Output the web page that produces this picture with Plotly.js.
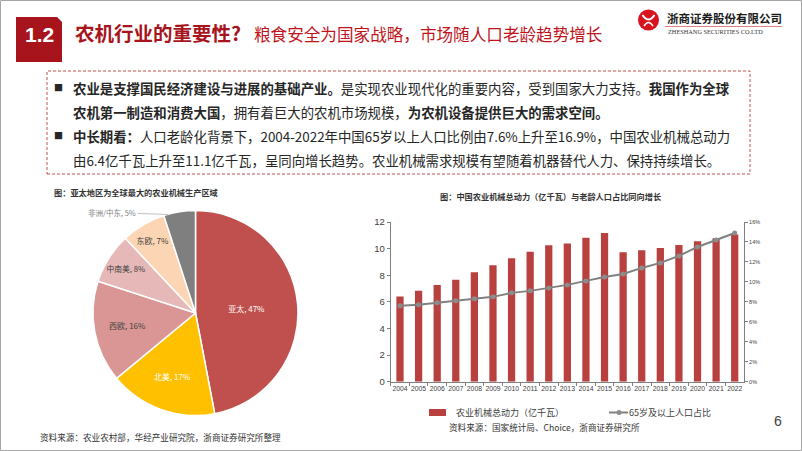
<!DOCTYPE html>
<html>
<head>
<meta charset="utf-8">
<script src="https://cdn.plot.ly/plotly-3.0.1.min.js"></script>
<style>
html,body{margin:0;padding:0;background:#fff;overflow:hidden;}
#chart{width:802px;height:451px;}
</style>
</head>
<body>
<div id="chart"></div>
<script>
// ---- data ----
const regions = ['亚太','北美','西欧','中南美','东欧','非洲/中东'];
const shares = [47,17,16,8,7,5];
const regionColors = ['#c0504d','#ffc000','#d99694','#e6b9b8','#fcd5b4','#7f7f7f'];
const years = ['2004','2005','2006','2007','2008','2009','2010','2011','2012','2013','2014','2015','2016','2017','2018','2019','2020','2021','2022'];
const machinePower = [6.4,6.84,7.26,7.66,8.22,8.75,9.28,9.77,10.26,10.39,10.81,11.17,9.72,9.88,10.04,10.28,10.56,10.78,11.06];
const elderlyShare = [7.6,7.7,7.9,8.1,8.3,8.5,8.9,9.1,9.4,9.7,10.1,10.5,10.8,11.4,11.9,12.6,13.5,14.2,14.9];
const leftTicks = [0,2,4,6,8,10,12];
const rightTicks = [0,2,4,6,8,10,12,14,16];
const rightTickText = ['0%','2%','4%','6%','8%','10%','12%','14%','16%'];

// ---- helpers: pixel -> paper ----
const W = 802, H = 451;
const X = px => px / W;
const Y = py => 1 - py / H;
const CJK = '"Noto Sans CJK SC", "Noto Sans", sans-serif';
const ARIAL = '"Liberation Sans", Arial, sans-serif';

const pieTrace = {
  type: 'pie',
  labels: regions,
  values: shares,
  sort: false,
  direction: 'clockwise',
  rotation: 0,
  domain: {x: [X(93), X(298)], y: [Y(415.5), Y(210.5)]},
  marker: {colors: regionColors, line: {color: '#ffffff', width: 1.5}},
  texttemplate: '%{label}, %{value}%',
  textposition: ['inside','inside','inside','inside','inside','none'],
  insidetextorientation: 'horizontal',
  insidetextfont: {family: CJK, size: 8, color: ['#ffffff','#ffffff','#404040','#404040','#404040','#404040']},
  showlegend: false,
  hoverinfo: 'none'
};

const barTrace = {
  type: 'bar',
  x: years,
  y: machinePower,
  name: '农业机械总动力（亿千瓦）',
  marker: {color: '#b8413f'},
  xaxis: 'x', yaxis: 'y',
  hoverinfo: 'none'
};

const lineTrace = {
  type: 'scatter',
  mode: 'lines+markers',
  x: years,
  y: elderlyShare,
  name: '65岁及以上人口占比',
  line: {color: '#808080', width: 2},
  marker: {color: '#8c8c8c', size: 5},
  xaxis: 'x', yaxis: 'y2',
  hoverinfo: 'none'
};

const ann = [];
function txt(text, x, y, size, opts) {
  opts = opts || {};
  ann.push(Object.assign({
    text: text, x: X(x), y: Y(y), xref: 'paper', yref: 'paper',
    xanchor: opts.xanchor || 'left', yanchor: 'middle', showarrow: false,
    font: {family: opts.family || CJK, size: size, color: opts.color || '#262626'}
  }, opts.extra || {}));
}

// header
txt('<b>1.2</b>', 39, 34, 21, {xanchor: 'center', family: ARIAL, color: '#ffffff'});
txt('<b>农机行业的重要性?</b>', 73, 33, 19.5, {color: '#a8141c'});
txt('粮食安全为国家战略，市场随人口老龄趋势增长', 252, 34, 16.6, {color: '#c0141c'});
// logo text
txt('<b>浙商证券股份有限公司</b>', 665, 18, 11.5, {color: '#1a1a1a'});
txt('ZHESHANG SECURITIES CO.LTD', 666, 32, 6.3, {family: '"Liberation Serif", serif', color: '#333333'});

// text box
txt('■', 58, 88, 9, {xanchor: 'center'});
txt('■', 58, 136, 9, {xanchor: 'center'});
txt('<b>农业是支撑国民经济建设与进展的基础产业。</b>是实现农业现代化的重要内容，受到国家大力支持。<b>我国作为全球</b>', 71, 88, 13.4);
txt('<b>农机第一制造和消费大国</b>，拥有着巨大的农机市场规模，<b>为农机设备提供巨大的需求空间。</b>', 71, 112, 13.4);
txt('<b>中长期看：</b>人口老龄化背景下，2004-2022年中国65岁以上人口比例由7.6%上升至16.9%，中国农业机械总动力', 71, 136, 13.4);
txt('由6.4亿千瓦上升至11.1亿千瓦，呈同向增长趋势。农业机械需求规模有望随着机器替代人力、保持持续增长。', 71, 160, 13.4);

// chart titles & sources
txt('<b>图：亚太地区为全球最大的农业机械生产区域</b>', 52, 192, 8.2, {color: '#333333'});
txt('<b>图：中国农业机械总动力（亿千瓦）与老龄人口占比同向增长</b>', 550, 196, 8.2, {xanchor: 'center', color: '#333333'});
txt('资料来源：农业农村部，华经产业研究院，浙商证券研究所整理', 38, 437, 8.6, {color: '#333333'});
txt('资料来源：国家统计局、Choice，浙商证券研究所', 447, 427, 8.6, {color: '#333333'});
txt('6', 778, 421, 14, {xanchor: 'center', family: ARIAL, color: '#404040'});

// outside pie label with leader line (last region)
ann.push({
  text: regions[5] + ', ' + shares[5] + '%',
  x: X(168), y: Y(214.5), xref: 'paper', yref: 'paper',
  ax: -56, ay: -2, showarrow: true, arrowhead: 0, arrowwidth: 0.7, arrowcolor: '#a6a6a6',
  font: {family: CJK, size: 7.5, color: '#808080'}
});

const shapes = [
  // slide frame
  {type: 'rect', xref: 'paper', yref: 'paper', x0: X(0.5), x1: X(801.5), y0: Y(450.5), y1: Y(0.5), line: {color: '#a6a6a6', width: 1}},
  // section number box with cut corner
  {type: 'path', xref: 'paper', yref: 'paper', fillcolor: '#a8141c', line: {width: 0},
   path: `M${X(16)},${Y(17)} L${X(57)},${Y(17)} L${X(62)},${Y(22)} L${X(62)},${Y(62)} L${X(16)},${Y(62)} Z`},
  // logo
  {type: 'circle', xref: 'paper', yref: 'paper', x0: X(638), x1: X(659), y0: Y(30.5), y1: Y(9.5), fillcolor: '#d7141e', line: {width: 0}},
  {type: 'path', xref: 'paper', yref: 'paper', fillcolor: 'rgba(0,0,0,0)', line: {color: '#ffffff', width: 2},
   path: `M${X(642.5)},${Y(15)} Q${X(648.5)},${Y(24)} ${X(654.5)},${Y(15)}`},
  {type: 'path', xref: 'paper', yref: 'paper', fillcolor: 'rgba(0,0,0,0)', line: {color: '#ffffff', width: 1.6},
   path: `M${X(644)},${Y(26)} Q${X(648.5)},${Y(19)} ${X(653)},${Y(26)}`},
  {type: 'line', xref: 'paper', yref: 'paper', x0: X(665), x1: X(782), y0: Y(26.5), y1: Y(26.5), line: {color: '#e08080', width: 1}},
  // dashed text box
  {type: 'rect', xref: 'paper', yref: 'paper', x0: X(47), x1: X(750), y0: Y(174), y1: Y(71), line: {color: '#c0504d', width: 1, dash: '3px,2px'}}
];

const layout = {
  width: W, height: H,
  margin: {l: 0, r: 0, t: 0, b: 0, pad: 0, autoexpand: false},
  paper_bgcolor: '#ffffff', plot_bgcolor: 'rgba(0,0,0,0)',
  bargap: 0.61,
  xaxis: {
    domain: [X(390.7), X(744)], anchor: 'y', type: 'category', range: [-0.5, 18.5],
    showline: true, linecolor: '#808080', linewidth: 1, tickangle: 0,
    ticks: 'outside', tickson: 'boundaries', ticklen: 3, tickcolor: '#808080',
    tickfont: {family: ARIAL, size: 6.8, color: '#404040'}, showgrid: false, zeroline: false, fixedrange: true
  },
  yaxis: {
    domain: [Y(381.7), Y(222)], anchor: 'x', range: [0, 12], tickvals: leftTicks,
    showline: true, linecolor: '#808080', linewidth: 1,
    ticks: 'outside', ticklen: 3, tickcolor: '#808080',
    tickfont: {family: ARIAL, size: 9.5, color: '#404040'}, showgrid: false, zeroline: false
  },
  yaxis2: {
    overlaying: 'y', side: 'right', anchor: 'x', range: [0, 16], tickvals: rightTicks, ticktext: rightTickText,
    showline: true, linecolor: '#808080', linewidth: 1,
    ticks: 'outside', ticklen: 3, tickcolor: '#808080',
    tickfont: {family: ARIAL, size: 5.5, color: '#404040'}, showgrid: false, zeroline: false
  },
  legend: {
    orientation: 'h', x: X(416), y: Y(398), xanchor: 'left', yanchor: 'top',
    font: {family: CJK, size: 9, color: '#404040'},
    entrywidth: 128, entrywidthmode: 'pixels', bgcolor: 'rgba(0,0,0,0)'
  },
  annotations: ann,
  shapes: shapes
};

Plotly.newPlot('chart', [pieTrace, barTrace, lineTrace], layout, {staticPlot: true, displayModeBar: false}).then(function (gd) {
  // legend swatches shaped like the reference: wide flat bar, short line
  gd.querySelectorAll('.legend .traces').forEach(function (t) {
    const bar = t.querySelector('.legendbar path, .legendpoints path.legendundefined');
    if (bar) bar.setAttribute('d', 'M10,3.5H-7V-3.5H10Z');
    const ln = t.querySelector('.legendlines path');
    if (ln) ln.setAttribute('d', 'M20,0h19');
    const mk = t.querySelector('.legendpoints path.scatterpts');
    if (mk) mk.setAttribute('transform', 'translate(30,0)');
  });
});
</script>
</body>
</html>
